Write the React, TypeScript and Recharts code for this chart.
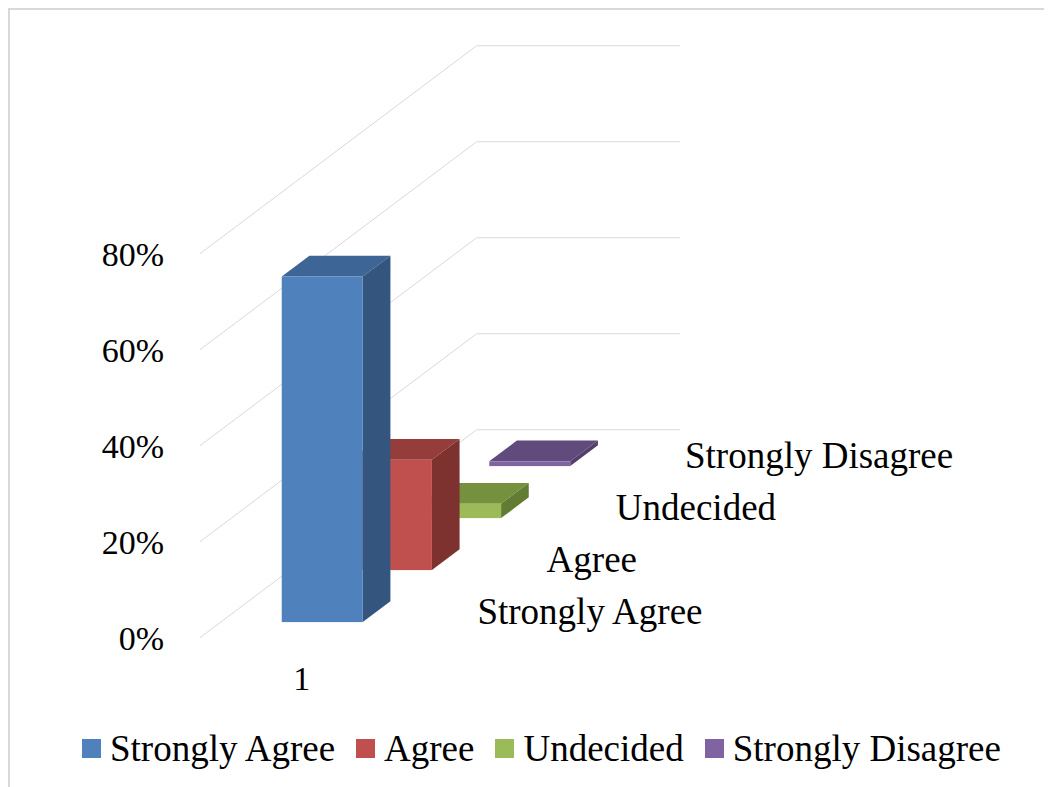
import React from 'react';
import { BarChart, Bar, XAxis, YAxis, CartesianGrid, Legend } from 'recharts';

const FONT = '"Liberation Serif", "Times New Roman", serif';

// survey responses, one category, four answer groups
const categories = ['1'];
const seriesNames = ['Strongly Agree', 'Agree', 'Undecided', 'Strongly Disagree'];
const seriesKeys = ['sa', 'ag', 'un', 'sd'];
const stronglyAgree = [0.72];
const agree = [0.23];
const undecided = [0.03];
const stronglyDisagree = [0.01];
const yTicks = [0, 0.2, 0.4, 0.6, 0.8];

// front / top / side shades for each box
const frontColors = ['#4F81BD', '#C0504D', '#9BBB59', '#8064A2'];
const topColors = ['#3D6596', '#943D3B', '#76913D', '#604B7C'];
const sideColors = ['#33557E', '#7D3230', '#637C34', '#52406A'];

const data = categories.map((name, i) => ({
  name,
  sa: stronglyAgree[i],
  ag: agree[i],
  un: undecided[i],
  sd: stronglyDisagree[i],
}));

const W = 1042;
const H = 777;

// oblique projection of the floor: full depth of the four series rows
const DEPTH_DX = 276.7;
const DEPTH_DY = -208;
const ROW_DX = DEPTH_DX / seriesNames.length;
const ROW_DY = DEPTH_DY / seriesNames.length;
const BAR_FRONT = 0.3; // boxes sit in the middle 40% of their row
const BAR_DEPTH = 0.4;
const LABEL_DX = 74.7;

function makeBox(row: number) {
  return (props: any) => {
    const { x, y, width, height } = props;
    if (x == null || y == null) return <g />;
    const fx = x + (row + BAR_FRONT) * ROW_DX;
    const fy = y + (row + BAR_FRONT) * ROW_DY;
    const dx = BAR_DEPTH * ROW_DX;
    const dy = BAR_DEPTH * ROW_DY;
    const h = Math.max(height, 0);
    // bar is 40% of the band, centred, so the floor's right edge is 0.75 bar widths further
    const floorRight = x + width * 1.75;
    const floorBottom = y + h;
    const lx = floorRight + LABEL_DX + row * ROW_DX;
    const ly = floorBottom + (row + 0.5) * ROW_DY + 12.5;
    return (
      <g>
        <polygon
          points={`${fx},${fy} ${fx + width},${fy} ${fx + width + dx},${fy + dy} ${fx + dx},${fy + dy}`}
          fill={topColors[row]}
        />
        <polygon
          points={`${fx + width},${fy} ${fx + width + dx},${fy + dy} ${fx + width + dx},${fy + h + dy} ${fx + width},${fy + h}`}
          fill={sideColors[row]}
        />
        <rect x={fx} y={fy} width={width} height={h} fill={frontColors[row]} />
        <text x={lx} y={ly} fontFamily={FONT} fontSize={37} fill="#000">
          {seriesNames[row]}
        </text>
      </g>
    );
  };
}

// each horizontal gridline runs back along the side wall, then across the back wall
function gridLine(props: any) {
  const { x1, y1, x2, key } = props;
  const bx = x1 + DEPTH_DX;
  const by = y1 + DEPTH_DY;
  return (
    <polyline
      key={key}
      points={`${x1},${y1} ${bx},${by} ${bx + (x2 - x1)},${by}`}
      fill="none"
      stroke="#d9d9d9"
      strokeWidth={1}
    />
  );
}

function renderLegend() {
  return (
    <div
      style={{
        display: 'flex',
        alignItems: 'center',
        fontFamily: FONT,
        fontSize: 37,
        lineHeight: '37px',
        color: '#000',
      }}
    >
      {seriesNames.map((n, i) => (
        <div key={n} style={{ display: 'flex', alignItems: 'center', marginRight: 21 }}>
          <span style={{ width: 19, height: 19, background: frontColors[i], marginRight: 9 }} />
          <span style={{ whiteSpace: 'nowrap' }}>{n}</span>
        </div>
      ))}
    </div>
  );
}

const tickStyle = { fontSize: 34, fill: '#000', fontFamily: FONT };

export default function App() {
  const rows = [3, 2, 1, 0]; // back rows first so the front box is painted last
  return (
    <div
      style={{
        position: 'relative',
        width: 1044,
        height: 779,
        boxSizing: 'border-box',
        borderTop: '2px solid #d9d9d9',
        borderLeft: '2px solid #d9d9d9',
        background: '#fff',
      }}
    >
      <BarChart
        width={W}
        height={H}
        data={data}
        margin={{ top: 243.7, right: 648.7, left: 100, bottom: 89.3 }}
        barCategoryGap="30%"
      >
        <CartesianGrid vertical={false} horizontal={gridLine} />
        {rows.map((r) => (
          <XAxis
            key={r}
            xAxisId={r}
            dataKey="name"
            hide={r !== 0}
            axisLine={false}
            tickLine={false}
            tickSize={0}
            tickMargin={28}
            height={60}
            tick={tickStyle}
          />
        ))}
        <YAxis
          domain={[0, 0.8]}
          ticks={yTicks}
          width={90}
          axisLine={false}
          tickLine={false}
          tickSize={0}
          tickMargin={36}
          tick={tickStyle}
          tickFormatter={(v: number) => `${Math.round(v * 100)}%`}
        />
        <Legend
          layout="horizontal"
          align="center"
          verticalAlign="middle"
          content={renderLegend}
          wrapperStyle={{ top: 720, left: 72, width: 980 }}
        />
        {rows.map((r) => (
          <Bar
            key={seriesKeys[r]}
            xAxisId={r}
            dataKey={seriesKeys[r]}
            name={seriesNames[r]}
            fill={frontColors[r]}
            shape={makeBox(r)}
            isAnimationActive={false}
          />
        ))}
      </BarChart>
    </div>
  );
}
